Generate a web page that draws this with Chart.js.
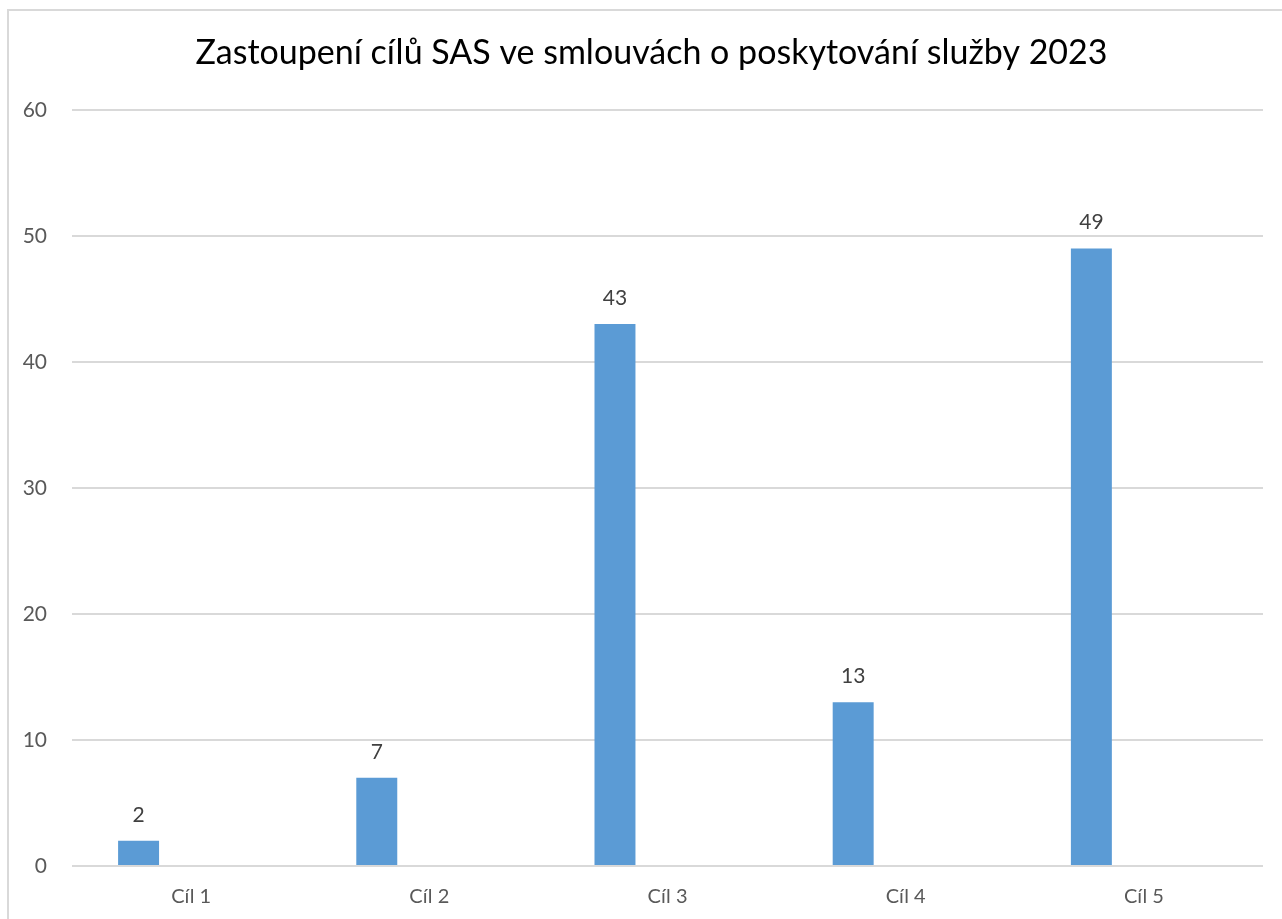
<!DOCTYPE html>
<html>
<head>
<meta charset="utf-8">
<script src="https://cdn.jsdelivr.net/npm/chart.js@4.4.1/dist/chart.umd.min.js"></script>
<style>
  html, body { margin: 0; padding: 0; background: #fff; overflow: hidden; width: 1282px; height: 919px; }
  #frame { position: absolute; left: 7px; top: 9px; width: 1300px; height: 940px;
           border-left: 2px solid #d9d9d9; border-top: 2px solid #d9d9d9; }
  #wrap { position: absolute; left: 0; top: 0; width: 1303px; height: 919px; }
</style>
</head>
<body>
<div id="frame"></div>
<div id="wrap"><canvas id="c" width="1303" height="919"></canvas></div>
<script>
const TITLE = 'Zastoupení cílů SAS ve smlouvách o poskytování služby 2023';
const categories = ['Cíl 1', 'Cíl 2', 'Cíl 3', 'Cíl 4', 'Cíl 5'];
const values = [2, 7, 43, 13, 49];
const emptySeries = [null, null, null, null, null];
const yTicks = [0, 10, 20, 30, 40, 50, 60];

const FONT = 'Lato, "Open Sans", sans-serif';

const valueLabels = {
  id: 'valueLabels',
  afterDatasetsDraw(chart) {
    const ctx = chart.ctx;
    const meta = chart.getDatasetMeta(0);
    ctx.save();
    ctx.font = '21px ' + FONT;
    ctx.fillStyle = '#404040';
    ctx.textAlign = 'center';
    ctx.textBaseline = 'middle';
    meta.data.forEach((bar, i) => {
      ctx.fillText(String(values[i]), bar.x, bar.y - 26);
    });
    ctx.restore();
  }
};

new Chart(document.getElementById('c'), {
  type: 'bar',
  data: {
    labels: categories,
    datasets: [
      { data: values, backgroundColor: '#5B9BD5', borderWidth: 0 },
      { data: emptySeries, backgroundColor: '#ED7D31', borderWidth: 0 }
    ]
  },
  options: {
    responsive: false,
    animation: false,
    layout: { padding: { left: 0, right: 0, top: 0, bottom: 0 } },
    datasets: { bar: { categoryPercentage: 0.882, barPercentage: 0.39 } },
    plugins: {
      legend: { display: false },
      tooltip: { enabled: false },
      title: {
        display: true,
        text: TITLE,
        color: '#000000',
        font: { family: FONT, size: 34, weight: 'normal' },
        padding: { top: 33, bottom: 36 }
      }
    },
    scales: {
      x: {
        grid: { display: false },
        border: { display: false },
        ticks: { color: '#595959', font: { family: FONT, size: 20 }, padding: 11 },
        afterFit(s) { s.height = 53; }
      },
      y: {
        min: 0, max: 60,
        afterBuildTicks(s) { s.ticks = yTicks.map(v => ({ value: v })); },
        grid: { color: '#d9d9d9', lineWidth: 2, drawTicks: false },
        border: { display: false },
        ticks: { color: '#595959', font: { family: FONT, size: 21 }, padding: 25 },
        afterFit(s) { s.width = 72; }
      },
      yRight: {
        position: 'right',
        min: 0, max: 60,
        grid: { display: false, drawTicks: false },
        border: { display: false },
        ticks: { display: false },
        afterFit(s) { s.width = 40; }
      }
    }
  },
  plugins: [valueLabels]
});
</script>
</body>
</html>
